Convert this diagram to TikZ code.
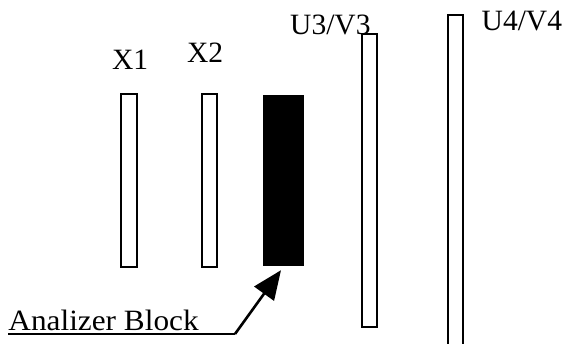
\documentclass[tikz,border=0pt]{standalone}
\usepackage{fontspec}
\setmainfont{Liberation Serif}
\usetikzlibrary{arrows.meta}
\begin{document}
\begin{tikzpicture}[x=1pt,y=-1pt,
  bar/.style={draw=black,line width=2pt,fill=white,rectangle,inner sep=0pt},
  blockbox/.style={fill=black,rectangle,inner sep=0pt},
  lbl/.style={inner sep=0pt,anchor=base west,font=\fontsize{29.5}{32}\selectfont},
  conn/.style={line width=2.6pt},
]
\useasboundingbox (0,0) rectangle (566,344);
% bars
\node[bar,minimum width=15.5pt,minimum height=173pt] (x1) at (128.75,180.5) {};
\node[bar,minimum width=15.5pt,minimum height=173pt] (x2) at (209.25,180.5) {};
\node[blockbox,minimum width=41pt,minimum height=171pt] (blk) at (283.5,180.5) {};
\node[bar,minimum width=15pt,minimum height=293pt] (u3) at (369.5,180.2) {};
\node[bar,minimum width=15pt,minimum height=340pt] (u4) at (455,185) {};
% labels
\node[lbl] (tx1) at (112,70) {X1};
\node[lbl] (tx2) at (187,62.3) {X2};
\node[lbl] (tu3) at (290,35) {U3/V3};
\node[lbl] (tu4) at (481.5,30.7) {U4/V4};
\node[lbl] (tab) at (8.3,331) {\scalebox{1.06}[1]{Analizer Block}};
% underline and arrow
\coordinate (bend) at (235,334);
\draw[conn] ([yshift=-3pt]tab.base west) -- (bend);
\draw[conn,-{Triangle[length=29pt,width=24pt]}] (bend) -- ([xshift=-2.5pt,yshift=-4pt]blk.south);
\end{tikzpicture}
\end{document}
